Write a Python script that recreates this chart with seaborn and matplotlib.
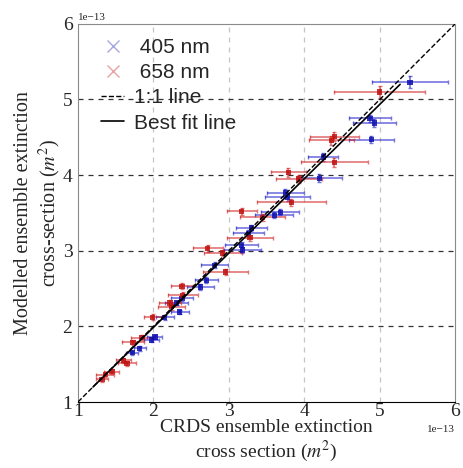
import numpy as np
import pandas as pd
import matplotlib
matplotlib.use("Agg")
import matplotlib.pyplot as plt
import seaborn as sns
from matplotlib.lines import Line2D

# values in units of 1e-13 m^2
blue_x = [5.40, 4.87, 4.93, 4.89, 4.25, 4.20, 3.75, 3.78, 3.68, 3.60, 3.30, 3.26, 3.17, 3.18,
          2.81, 2.70, 2.62, 2.38, 2.31, 2.15, 2.35, 2.02, 1.98, 1.82, 1.72]
blue_y = [5.23, 4.75, 4.69, 4.47, 4.24, 3.96, 3.77, 3.71, 3.51, 3.47, 3.30, 3.23, 3.07, 3.01,
          2.81, 2.61, 2.52, 2.37, 2.31, 2.12, 2.19, 1.86, 1.82, 1.71, 1.65]
blue_xerr = [0.50, 0.28, 0.28, 0.30, 0.20, 0.30, 0.25, 0.30, 0.25, 0.25, 0.20, 0.20, 0.22, 0.25,
             0.18, 0.15, 0.18, 0.15, 0.15, 0.12, 0.12, 0.10, 0.10, 0.08, 0.08]
blue_yerr = [0.08, 0.05, 0.05, 0.05, 0.05, 0.05, 0.05, 0.05, 0.04, 0.04, 0.04, 0.04, 0.04, 0.04,
             0.04, 0.04, 0.04, 0.03, 0.03, 0.03, 0.03, 0.03, 0.03, 0.03, 0.03]

red_x = [5.00, 4.40, 4.36, 4.40, 3.79, 3.93, 3.83, 3.17, 3.45, 3.28, 2.72, 2.92, 2.96,
         2.38, 2.39, 2.24, 1.99, 2.22, 1.85, 1.73, 1.60, 1.65, 1.45, 1.36, 1.32]
red_y = [5.10, 4.51, 4.46, 4.17, 4.04, 3.95, 3.64, 3.52, 3.44, 3.17, 3.03, 2.97, 2.72,
         2.53, 2.41, 2.26, 2.12, 2.31, 1.85, 1.79, 1.55, 1.51, 1.40, 1.36, 1.30]
red_xerr = [0.60, 0.32, 0.30, 0.45, 0.23, 0.30, 0.46, 0.20, 0.30, 0.30, 0.20, 0.25, 0.30,
            0.15, 0.20, 0.18, 0.12, 0.15, 0.15, 0.15, 0.10, 0.12, 0.10, 0.12, 0.08]
red_yerr = [0.08, 0.06, 0.06, 0.06, 0.06, 0.05, 0.05, 0.05, 0.05, 0.04, 0.05, 0.04, 0.04,
            0.04, 0.04, 0.04, 0.04, 0.04, 0.03, 0.03, 0.03, 0.03, 0.03, 0.03, 0.03]

fit_slope = 0.983
fit_intercept = 0.02
fit_xlim = [1.2, 5.27]
scale = 1e-13

sns.set_style("white")
plt.rcParams["font.family"] = ["Liberation Serif", "DejaVu Serif"]
plt.rcParams["mathtext.fontset"] = "stix"

fig = plt.figure(figsize=(4.64, 4.68), dpi=100)
ax = fig.add_axes([0.168, 0.141, 0.813, 0.808])

df_b = pd.DataFrame({"x": np.array(blue_x) * scale, "y": np.array(blue_y) * scale})
df_r = pd.DataFrame({"x": np.array(red_x) * scale, "y": np.array(red_y) * scale})

ax.errorbar(df_b["x"], df_b["y"], xerr=np.array(blue_xerr) * scale, yerr=np.array(blue_yerr) * scale,
            fmt="none", ecolor="#1a1acc", alpha=0.6, elinewidth=1.2, capsize=1.5, zorder=2)
ax.errorbar(df_r["x"], df_r["y"], xerr=np.array(red_xerr) * scale, yerr=np.array(red_yerr) * scale,
            fmt="none", ecolor="#d01a1a", alpha=0.6, elinewidth=1.2, capsize=1.5, zorder=2)
sns.scatterplot(data=df_b, x="x", y="y", ax=ax, marker="s", s=14, color="#1010b0",
                edgecolor="none", alpha=0.85, zorder=3, legend=False)
sns.scatterplot(data=df_r, x="x", y="y", ax=ax, marker="s", s=14, color="#c01010",
                edgecolor="none", alpha=0.85, zorder=3, legend=False)

one = np.array([1, 6]) * scale
ax.plot(one, one, "k--", lw=1, zorder=4)
fx = np.array(fit_xlim)
ax.plot(fx * scale, (fit_slope * fx + fit_intercept) * scale, "k-", lw=1.2, zorder=4)

ax.set_xlim(1e-13, 6e-13)
ax.set_ylim(1e-13, 6e-13)
ax.set_xticks(np.arange(1, 7) * scale)
ax.set_yticks(np.arange(1, 7) * scale)
ax.tick_params(labelsize=14, direction="in", length=3, pad=1)
ax.tick_params(axis="y", pad=4)
ax.xaxis.get_offset_text().set_fontsize(8)
ax.yaxis.get_offset_text().set_fontsize(8)

for x in range(2, 6):
    ax.axvline(x * scale, color="#c4c4c4", ls=(0, (4, 4)), lw=0.9, zorder=1)
for y in range(2, 6):
    ax.axhline(y * scale, color="#333333", ls=(0, (4, 4)), lw=0.9, zorder=1)

ax.spines["bottom"].set_color("black")
for s in ["top", "right", "left"]:
    ax.spines[s].set_color("#8a8a8a")

ax.set_xlabel("CRDS ensemble extinction\ncross section ($m^2$)", fontsize=14, labelpad=-1,
              linespacing=1.15)
ax.set_ylabel("Modelled ensemble extinction\ncross-section ($m^2$)", fontsize=14.5, labelpad=0)

handles = [
    Line2D([], [], marker="x", ls="none", color="#5050c8", alpha=0.5, markersize=8),
    Line2D([], [], marker="x", ls="none", color="#d04848", alpha=0.5, markersize=8),
    Line2D([], [], color="k", ls="--", lw=1),
    Line2D([], [], color="k", ls="-", lw=1.2),
]
ax.legend(handles, [" 405 nm", " 658 nm", "1:1 line", "Best fit line"], loc="upper left",
          bbox_to_anchor=(0.04, 0.985), borderaxespad=0,
          frameon=False, prop={"family": "Liberation Sans", "size": 15},
          handlelength=1.1, handletextpad=0.45, labelspacing=0.3)

fig.savefig("out.png", dpi=100)
